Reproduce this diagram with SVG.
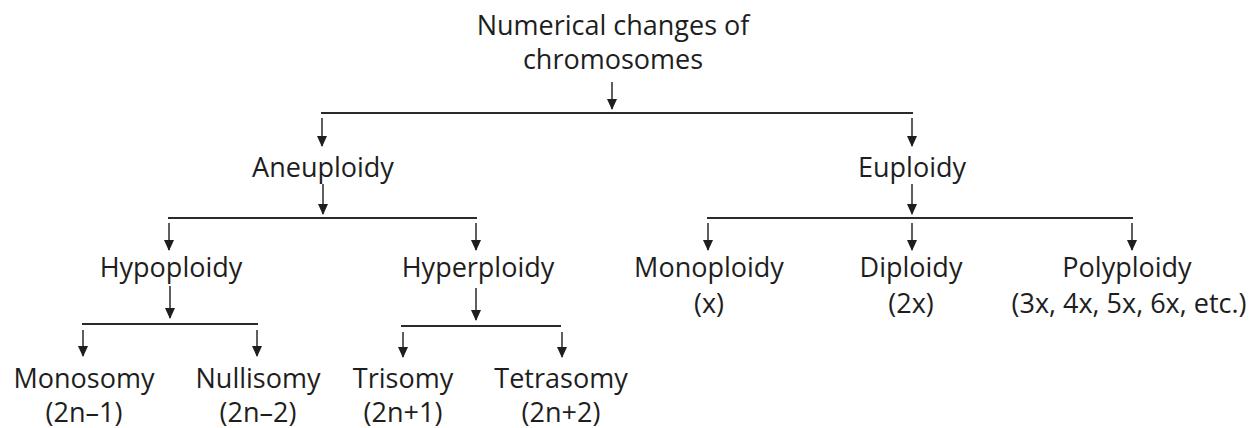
<svg xmlns="http://www.w3.org/2000/svg" width="1258" height="428" viewBox="0 0 1258 428">
<style>
text{font-family:"Open Sans","Noto Sans","DejaVu Sans",sans-serif;font-size:27px;fill:#1e1e1e;text-anchor:middle}
.h{stroke:#2a2a2a;stroke-width:2;fill:none}
.a{stroke:#2a2a2a;stroke-width:1.5;fill:none;marker-end:url(#ah)}
</style>
<defs>
<marker id="ah" markerUnits="userSpaceOnUse" markerWidth="11" markerHeight="10" viewBox="0 0 11 10" refX="10" refY="5" orient="auto">
<path d="M0,0 L11,5 L0,10 Z" fill="#1e1e1e"/>
</marker>
</defs>
<rect width="1258" height="428" fill="#fff"/>
<g id="connectors">
<line class="a" x1="612" y1="82" x2="612" y2="109"/>
<line class="h" x1="321" y1="113" x2="913" y2="113"/>
<line class="a" x1="322" y1="118" x2="322" y2="146"/>
<line class="a" x1="912" y1="118" x2="912" y2="146"/>
<line class="a" x1="323" y1="184" x2="323" y2="214"/>
<line class="a" x1="912" y1="184" x2="912" y2="214"/>
<line class="h" x1="168" y1="218" x2="477" y2="218"/>
<line class="h" x1="707" y1="218" x2="1133" y2="218"/>
<line class="a" x1="169" y1="223" x2="169" y2="250"/>
<line class="a" x1="476" y1="223" x2="476" y2="250"/>
<line class="a" x1="708" y1="223" x2="708" y2="250"/>
<line class="a" x1="912" y1="223" x2="912" y2="250"/>
<line class="a" x1="1132" y1="223" x2="1132" y2="250"/>
<line class="a" x1="170" y1="286" x2="170" y2="318"/>
<line class="a" x1="476" y1="288" x2="476" y2="320"/>
<line class="h" x1="82" y1="324" x2="258" y2="324"/>
<line class="h" x1="401" y1="326" x2="561" y2="326"/>
<line class="a" x1="83" y1="330" x2="83" y2="356"/>
<line class="a" x1="257" y1="330" x2="257" y2="356"/>
<line class="a" x1="403" y1="332" x2="403" y2="357"/>
<line class="a" x1="562" y1="332" x2="562" y2="357"/>
</g>
<g id="root"><text x="613" y="35">Numerical changes of</text><text x="613" y="69">chromosomes</text></g>
<g id="aneuploidy"><text x="323" y="177">Aneuploidy</text></g>
<g id="euploidy"><text x="912" y="177">Euploidy</text></g>
<g id="hypoploidy"><text x="171" y="277">Hypoploidy</text></g>
<g id="hyperploidy"><text x="478" y="277">Hyperploidy</text></g>
<g id="monoploidy"><text x="709" y="277">Monoploidy</text><text x="709" y="313">(x)</text></g>
<g id="diploidy"><text x="911" y="277">Diploidy</text><text x="911" y="313">(2x)</text></g>
<g id="polyploidy"><text x="1127" y="277">Polyploidy</text><text x="1129" y="313">(3x, 4x, 5x, 6x, etc.)</text></g>
<g id="monosomy"><text x="84" y="388">Monosomy</text><text x="84" y="422">(2n–1)</text></g>
<g id="nullisomy"><text x="258" y="388">Nullisomy</text><text x="258" y="422">(2n–2)</text></g>
<g id="trisomy"><text x="403" y="388">Trisomy</text><text x="403" y="422">(2n+1)</text></g>
<g id="tetrasomy"><text x="561" y="388">Tetrasomy</text><text x="561" y="422">(2n+2)</text></g>
</svg>
